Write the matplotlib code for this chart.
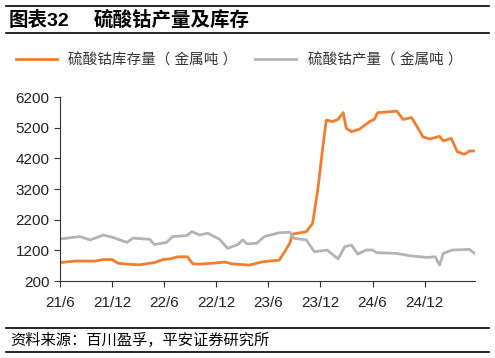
import matplotlib.pyplot as plt
import pandas as pd

plt.rcParams['font.family'] = ['Liberation Sans', 'Noto Sans CJK SC', 'DejaVu Sans']

# 硫酸钴库存量(金属吨)
stock_dates = ['2021-06-01', '2021-07-22', '2021-10-01', '2021-11-01', '2021-12-01',
               '2021-12-22', '2022-01-22', '2022-03-07', '2022-04-28', '2022-05-28',
               '2022-06-22', '2022-07-19', '2022-08-22', '2022-09-10', '2022-10-04',
               '2022-12-01', '2023-01-01', '2023-01-25', '2023-03-28', '2023-05-13',
               '2023-07-10', '2023-08-01', '2023-08-16', '2023-08-25', '2023-10-13',
               '2023-11-04', '2023-11-22', '2023-12-10', '2023-12-22', '2024-01-13',
               '2024-02-01', '2024-02-19', '2024-03-01', '2024-03-19', '2024-04-16',
               '2024-05-22', '2024-06-07', '2024-06-19', '2024-08-01', '2024-08-25',
               '2024-09-16', '2024-10-16', '2024-11-04', '2024-11-25', '2024-12-19',
               '2025-01-22', '2025-02-04', '2025-03-04', '2025-03-25', '2025-04-19',
               '2025-05-07', '2025-05-25']
stock = [800, 850, 850, 900, 900,
         780, 750, 730, 800, 900,
         920, 990, 990, 760, 750,
         790, 820, 760, 720, 830,
         880, 1200, 1430, 1730, 1810,
         2080, 3170, 4580, 5450, 5400,
         5470, 5690, 5180, 5070, 5150,
         5400, 5470, 5690, 5720, 5740,
         5470, 5530, 5240, 4900, 4830,
         4920, 4770, 4850, 4420, 4330,
         4440, 4440]

# 硫酸钴产量(金属吨)
prod_dates = ['2021-06-01', '2021-08-10', '2021-09-15', '2021-11-01', '2021-12-04',
              '2022-01-22', '2022-02-12', '2022-04-12', '2022-04-28', '2022-06-10',
              '2022-07-01', '2022-08-19', '2022-09-07', '2022-10-04', '2022-11-01',
              '2022-12-13', '2023-01-10', '2023-02-15', '2023-03-04', '2023-03-19',
              '2023-04-22', '2023-05-19', '2023-07-10', '2023-08-16', '2023-09-01',
              '2023-10-13', '2023-11-10', '2023-12-25', '2024-02-01', '2024-02-25',
              '2024-03-19', '2024-04-10', '2024-05-10', '2024-06-01', '2024-06-16',
              '2024-08-25', '2024-10-10', '2024-12-07', '2025-01-07', '2025-01-22',
              '2025-02-04', '2025-03-07', '2025-05-07', '2025-05-25']
prod = [1570, 1650, 1540, 1700, 1620,
        1460, 1600, 1560, 1390, 1460,
        1650, 1680, 1810, 1700, 1760,
        1560, 1265, 1390, 1540, 1410,
        1430, 1650, 1775, 1790, 1590,
        1540, 1155, 1210, 920, 1320,
        1375, 1080, 1210, 1210, 1125,
        1100, 1025, 970, 990, 720,
        1100, 1210, 1230, 1100]

tick_dates = ['2021-06-01', '2021-12-01', '2022-06-01', '2022-12-01',
              '2023-06-01', '2023-12-01', '2024-06-01', '2024-12-01']
tick_labels = ['21/6', '21/12', '22/6', '22/12', '23/6', '23/12', '24/6', '24/12']

fig = plt.figure(figsize=(4.95, 3.58), dpi=100)
ax = fig.add_axes([0.121, 0.215, 0.839, 0.514])

ax.plot(pd.to_datetime(stock_dates), stock, color='#F07E2E', lw=2.0,
        label='硫酸钴库存量（ 金属吨 ）')
ax.plot(pd.to_datetime(prod_dates), prod, color='#B4B4B4', lw=2.0,
        label='硫酸钴产量（ 金属吨 ）')

ax.set_ylim(200, 6200)
ax.set_yticks(range(200, 6201, 1000))
ax.set_xlim(pd.Timestamp('2021-06-01'), pd.Timestamp('2025-05-27'))
ax.set_xticks(pd.to_datetime(tick_dates))
ax.set_xticklabels(tick_labels)
for s in ['top', 'right']:
    ax.spines[s].set_visible(False)
for s in ['left', 'bottom']:
    ax.spines[s].set_color('#333333')
    ax.spines[s].set_linewidth(0.8)
ax.tick_params(axis='both', labelsize=11, color='#333333', length=4, width=0.8,
               labelcolor='#222222')
ax.tick_params(axis='x', pad=7)

ax.legend(loc='center left', bbox_to_anchor=(-0.12, 1.2), ncol=2, frameon=False,
          fontsize=10.5, handlelength=2.8, columnspacing=1.2, borderaxespad=0,
          labelcolor='#333333')

# title and frame lines
fig.add_artist(plt.Line2D([0.012, 0.988], [0.983, 0.983], color='black', lw=1.2))
fig.add_artist(plt.Line2D([0.012, 0.988], [0.907, 0.907], color='black', lw=1.2))
fig.text(0.018, 0.944, '图表32', fontsize=14, fontweight='bold', va='center')
fig.text(0.19, 0.944, '硫酸钴产量及库存', fontsize=14, fontweight='bold', va='center')

fig.add_artist(plt.Line2D([0.012, 0.988], [0.084, 0.084], color='black', lw=1.2))
fig.add_artist(plt.Line2D([0.012, 0.988], [0.016, 0.016], color='black', lw=1.2))
fig.text(0.02, 0.05, '资料来源：百川盈孚，平安证券研究所', fontsize=11, va='center')

fig.savefig('out.png', dpi=100)
